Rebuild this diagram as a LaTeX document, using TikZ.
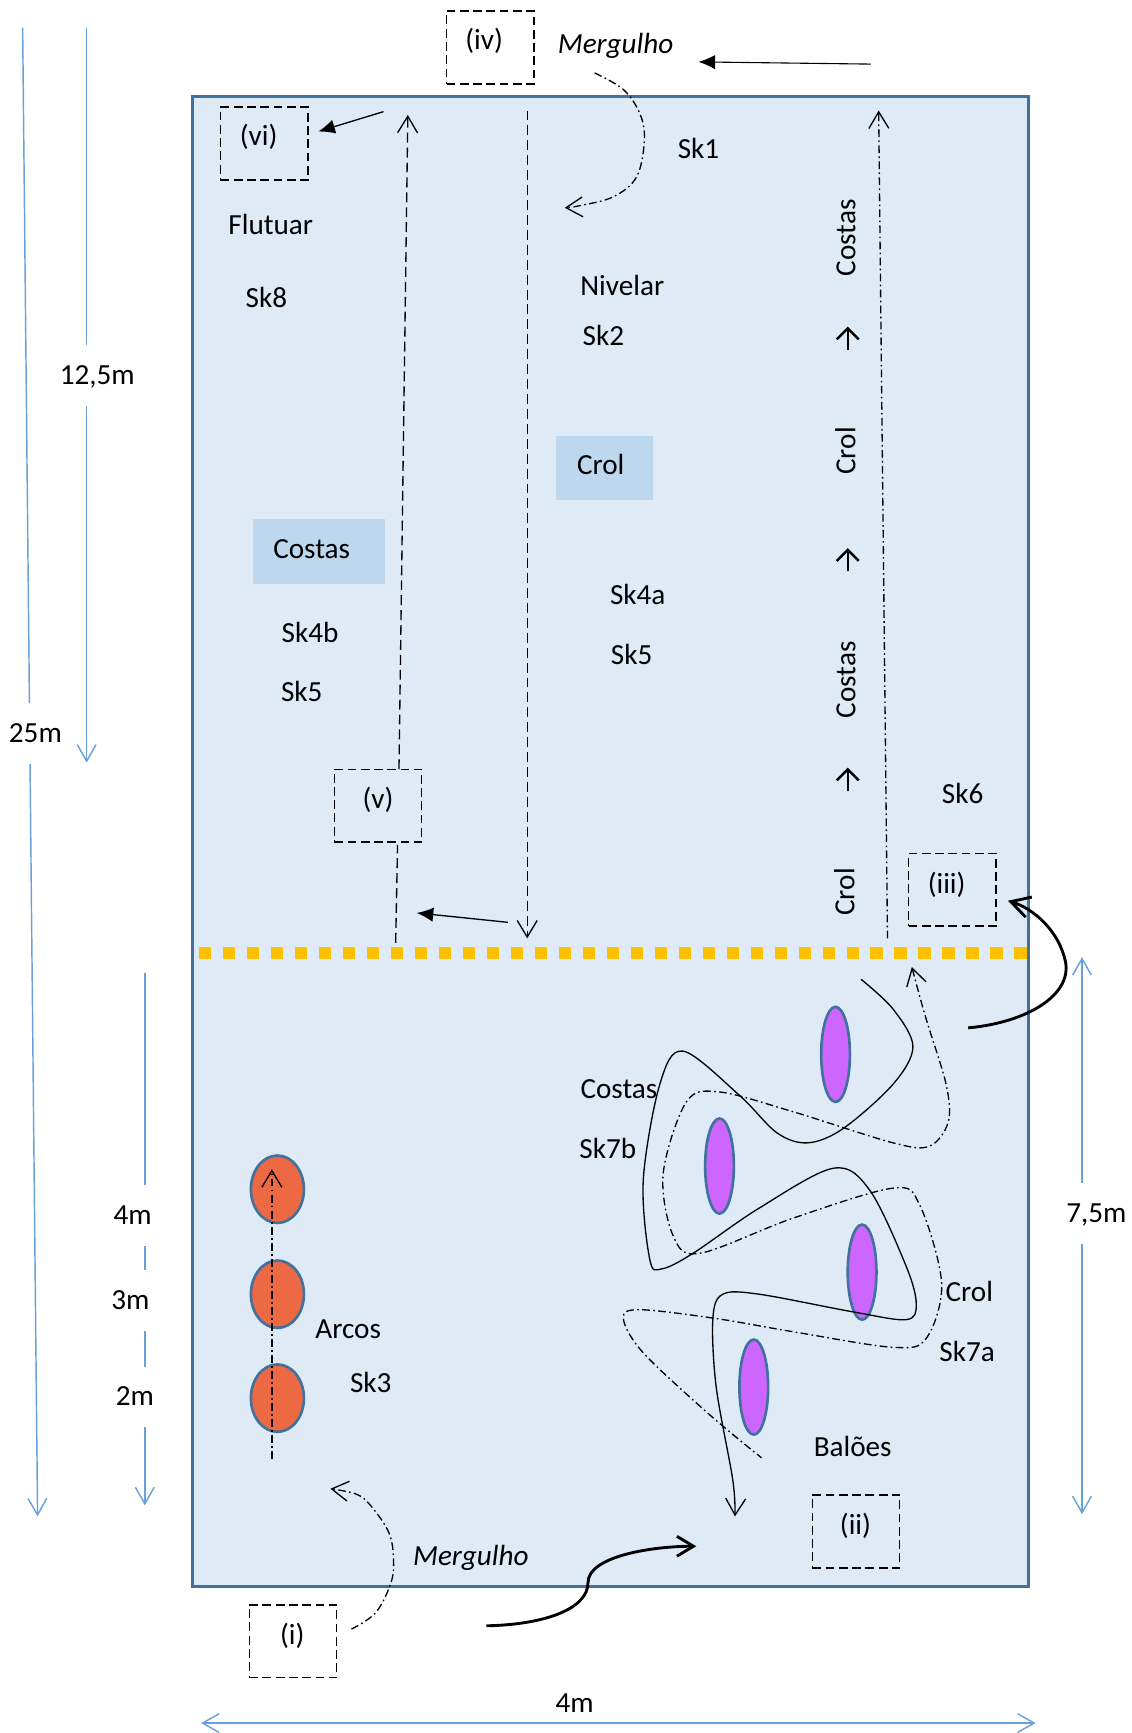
\documentclass[tikz,border=0pt]{standalone}
\usepackage{fontspec}
\setmainfont{Carlito}
\usetikzlibrary{arrows.meta,shapes.geometric}

\definecolor{poolfill}{HTML}{DEEBF7}
\definecolor{poolline}{HTML}{41719C}
\definecolor{tagfill}{HTML}{BDD7EE}
\definecolor{dimblue}{RGB}{104,160,220}
\definecolor{lanerope}{HTML}{FFC000}
\definecolor{balloon}{HTML}{CC66FF}
\definecolor{hoop}{RGB}{237,105,68}

\tikzset{
  dimtip/.tip={Straight Barb[length=15pt,width=17pt]},
  openhead/.tip={Straight Barb[length=15pt,width=18pt]},
  solidhead/.tip={Latex[length=15pt,width=13pt]},
  bighead/.tip={Straight Barb[length=17pt,width=19pt]},
  smallup/.tip={Straight Barb[length=10pt,width=20pt]}
}

\begin{document}
\begin{tikzpicture}[x=1pt,y=-1pt,
  font=\fontsize{26.4}{32}\selectfont,
  txt/.style={inner sep=0pt,text height=1.6em,text depth=0pt},
  dimtxt/.style={txt,fill=white,inner xsep=3pt,minimum height=55pt},
  tagbox/.style={draw,line width=1.3pt,dash pattern=on 8pt off 4pt,
    minimum width=79pt,minimum height=66pt,inner sep=0pt},
  stroke/.style={inner sep=0pt,fill=tagfill},
  dimline/.style={draw=dimblue,line width=1.3pt},
  thin/.style={line width=1.2pt},
  dashedline/.style={thin,dash pattern=on 9pt off 4.5pt},
  dashdotline/.style={thin,dash pattern=on 7pt off 3pt on 1.5pt off 3pt},
  bigarrow/.style={line width=2.6pt},
  balloonshape/.style={ellipse,draw=poolline,fill=balloon,line width=2.4pt,
    minimum width=26pt,minimum height=86pt,inner sep=0pt},
  hoopshape/.style={ellipse,draw=poolline,fill=hoop,line width=2.4pt,
    minimum width=48pt,minimum height=61pt,inner sep=0pt}
]
\useasboundingbox (0,0) rectangle (1024,1568);

% ---------- pool ----------
\node[draw=poolline,fill=poolfill,line width=2.7pt,minimum width=756pt,
  minimum height=1348pt,inner sep=0pt,anchor=north west] (pool) at (173,86) {};

% lane rope at half length
\draw[draw=lanerope,line width=11pt,dash pattern=on 11pt off 10.7pt]
  (180,862) coordinate (ropeL) -- (929,862) coordinate (ropeR);

% ---------- dimension lines ----------
\coordinate (d25a) at (20.5,25);
\coordinate (d25b) at (34,1372);
\draw[dimline,-{dimtip}] (d25a) -- (d25b);
\node[dimtxt] (l25) at (32,664) {25m};

\coordinate (d12a) at (78.4,25);
\coordinate (d12b) at (78.4,690);
\draw[dimline,-{dimtip}] (d12a) -- (d12b);
\node[dimtxt] (l12) at (88,340) {12,5m};

\coordinate (d9a) at (131,880);
\coordinate (d9b) at (131,1362);
\draw[dimline,-{dimtip}] (d9a) -- (d9b);
\node[dimtxt] (l4) at (120,1100) {4m};
\node[dimtxt] (l3) at (118,1177) {3m};
\node[dimtxt] (l2) at (122,1264) {2m};

\coordinate (d75a) at (979,866);
\coordinate (d75b) at (979,1370);
\draw[dimline,{dimtip}-{dimtip}] (d75a) -- (d75b);
\node[dimtxt] (l75) at (992,1098) {7,5m};

\coordinate (dwa) at (182,1559);
\coordinate (dwb) at (937,1559);
\draw[dimline,{dimtip}-{dimtip}] (dwa) -- (dwb);
\node[txt] (lw) at (520,1541) {4m};

% ---------- shaded labels ----------
\node[stroke,minimum width=87pt,minimum height=58.5pt] (crolBox) at (547,423.5) {};
\node[txt] (crolTxt) at (543.5,421) {Crol};
\node[stroke,minimum width=119pt,minimum height=58.5pt] (costasBox) at (288.5,499) {};
\node[txt] (costasTxt) at (282,497) {Costas};

% ---------- free texts ----------
\node[txt] (sk1) at (632,135) {Sk1};
\node[txt] (flutuar) at (245,204) {Flutuar};
\node[txt] (sk8) at (241,270) {Sk8};
\node[txt] (nivelar) at (563,259) {Nivelar};
\node[txt] (sk2) at (546,305) {Sk2};
\node[txt] (sk4b) at (280.5,573.5) {Sk4b};
\node[txt] (sk5a) at (273,627) {Sk5};
\node[txt] (sk4a) at (577,539) {Sk4a};
\node[txt] (sk5b) at (571.5,593) {Sk5};
\node[txt] (sk6) at (871,719) {Sk6};
\node[txt] (costas7) at (560,986) {Costas};
\node[txt] (sk7b) at (550,1040) {Sk7b};
\node[txt] (crol7) at (877,1170) {Crol};
\node[txt] (sk7a) at (875,1224) {Sk7a};
\node[txt] (baloes) at (771.5,1310) {Balões};
\node[txt] (arcos) at (315,1203) {Arcos};
\node[txt] (sk3) at (335.5,1252) {Sk3};
\node[txt,font=\fontsize{26.4}{32}\selectfont\itshape] (mergTop) at (557,40) {Mergulho};
\node[txt,font=\fontsize{26.4}{32}\selectfont\itshape] (mergBot) at (426,1408) {Mergulho};

% rotated stroke sequence along the right lane
\node[txt,rotate=90] (rc1) at (766,215) {Costas};
\node[txt,rotate=90] (rc2) at (766,408) {Crol};
\node[txt,rotate=90] (rc3) at (766,615) {Costas};
\node[txt,rotate=90] (rc4) at (765,807) {Crol};
\foreach \yy/\nm in {306/u1,506.5/u2,705/u3}{
  \coordinate (\nm a) at (767,\yy+10.5);
  \coordinate (\nm b) at (767,\yy-10.5);
  \draw[line width=2.2pt,-{smallup}] (\nm a) -- (\nm b);
}

% ---------- station boxes ----------
\node[tagbox] (boxiv) at (443.5,43) {};
\node[txt] (tagiv) at (438,37) {(iv)};
\node[tagbox] (boxvi) at (239,130) {};
\node[txt] (tagvi) at (234,124) {(vi)};
\node[tagbox] (boxv) at (342,729) {};
\node[txt] (tagv) at (342,723.5) {(v)};
\node[tagbox] (boxiii) at (861.5,805) {};
\node[txt] (tagiii) at (856.5,800) {(iii)};
\node[tagbox] (boxii) at (774.5,1385.5) {};
\node[txt] (tagii) at (774,1380) {(ii)};
\node[tagbox] (boxi) at (265,1485) {};
\node[txt] (tagi) at (264.5,1479.5) {(i)};

% ---------- obstacles ----------
\node[balloonshape] (b1) at (756,954) {};
\node[balloonshape] (b2) at (651,1055) {};
\node[balloonshape] (b3) at (780,1151) {};
\node[balloonshape] (b4) at (682,1255) {};
\node[hoopshape] (h1) at (251,1076) {};
\node[hoopshape] (h2) at (251,1171) {};
\node[hoopshape] (h3) at (251,1265) {};

% ---------- routes, upper half ----------
% dive entry from (iv)
\coordinate (arrTopR) at (788,58);
\coordinate (arrTopL) at (632,56);
\draw[line width=1pt,-{solidhead}] (arrTopR) -- (arrTopL);
\draw[dashdotline,-{openhead}] plot[smooth,tension=0.6] coordinates
  {(538,66) (564,81) (579,103) (583,127) (576,160) (555,178) (525,186) (511,188)};

% first length, down the middle
\coordinate (downA) at (477,100);
\coordinate (downB) at (477,849);
\draw[dashedline,-{openhead}] (downA) -- (downB);
\coordinate (turnR) at (459.5,834.5);
\coordinate (turnL) at (377,826);
\draw[thin,-{solidhead}] (turnR) -- (turnL);

% return length through (v)
\coordinate (upBot) at (358,853);
\coordinate (vBot) at (359.7,764.5);
\coordinate (vTop) at (361,696);
\coordinate (upTop) at (369,104);
\draw[dashedline] (upBot) -- (vBot);
\draw[dashedline,-{openhead}] (vTop) -- (upTop);
\coordinate (toViA) at (347,101);
\coordinate (toViB) at (288,119);
\draw[thin,-{solidhead}] (toViA) -- (toViB);

% right lane, towards the far wall
\coordinate (rlBot) at (803,849);
\coordinate (rlTop) at (795,100);
\draw[dashdotline,-{openhead}] (rlBot) -- (rlTop);

% curved arrow into (iii)
\coordinate (iiiS) at (876,930);
\coordinate (iiiE) at (912,815);
\draw[bigarrow,-{bighead}]
  (iiiS) .. controls (930,925) and (970,900) .. (964,870)
  .. controls (958,842) and (935,822) .. (iiiE);

% ---------- routes, lower half ----------
% entry from (i)
\draw[dashdotline,-{openhead}] plot[smooth,tension=0.6] coordinates
  {(318,1474) (340,1459) (353.7,1432) (356,1411) (352,1387) (336,1363) (322.7,1352) (299,1347)};
\coordinate (sStart) at (440,1471);
\coordinate (sEnd) at (630,1399);
\draw[bigarrow,-{openhead}]
  (sStart) .. controls (492,1470) and (532,1456) .. (532,1432)
  .. controls (532,1408) and (590,1399) .. (sEnd);

% line through the hoops
\coordinate (hoopBot) at (246,1320);
\coordinate (hoopTop) at (246,1058);
\draw[dashdotline,-{openhead}] (hoopBot) -- (hoopTop);

% slalom around the balloons (solid)
\draw[thin,-{openhead}] plot[smooth,tension=0.55] coordinates
  {(779,886) (808,913) (826,947) (808,981) (763,1021) (731,1034) (703,1025) (669,991)
   (618,951) (597,981) (582,1068) (588,1140) (599,1148) (627,1134) (687,1093) (754,1057)
   (787,1077) (820,1146) (829,1180) (820,1194) (772,1187) (687,1171) (654,1171) (645,1193)
   (648,1255) (663,1339) (665,1372)};

% slalom around the balloons (dash-dot)
\draw[dashdotline,{openhead}-] plot[smooth,tension=0.55] coordinates
  {(825,875) (838,922) (856,981) (858,1015) (841,1037) (808,1034) (718,1006) (651,988)
   (621,997) (600,1062) (609,1118) (633,1134) (718,1102) (808,1075) (832,1090) (852,1161)
   (838,1211) (808,1219) (718,1205) (648,1193) (579,1185) (564,1193) (582,1224) (642,1280)
   (689,1319)};

\end{tikzpicture}
\end{document}
